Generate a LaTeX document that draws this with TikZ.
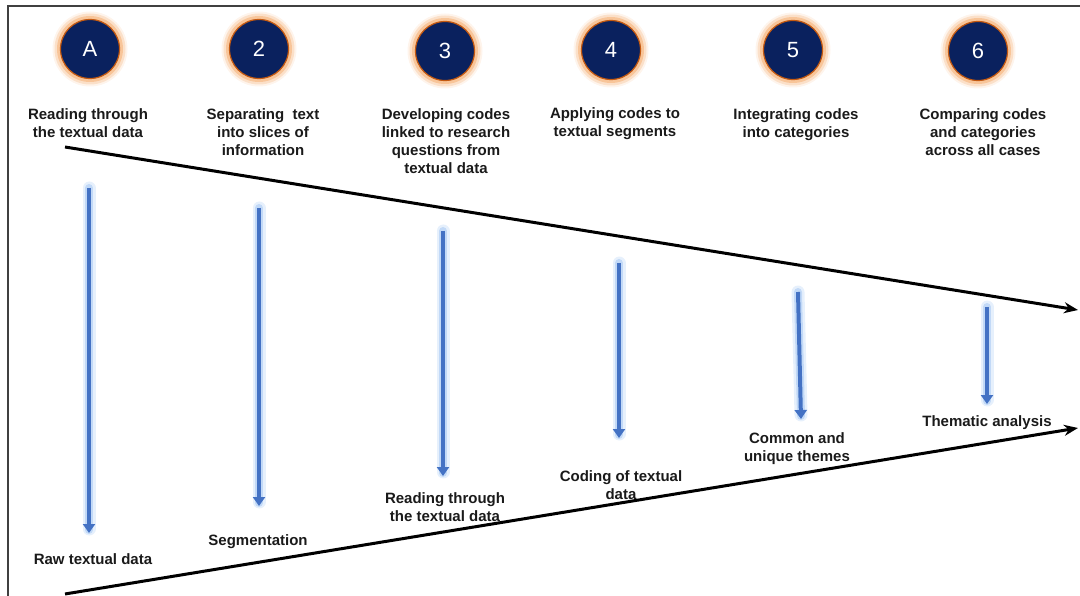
\documentclass[tikz,border=0pt]{standalone}
\usepackage{fontspec}
\setmainfont{Liberation Sans}
\usetikzlibrary{arrows.meta,calc}
\definecolor{navy}{HTML}{0A215E}
\definecolor{halo}{HTML}{F4A460}
\definecolor{haloedge}{HTML}{C55A11}
\definecolor{arrowblue}{HTML}{4472C4}
\definecolor{glowblue}{HTML}{9DC3F2}
\definecolor{txt}{HTML}{1A1A1A}
\tikzset{
  stepnum/.style={circle, fill=navy, draw=haloedge, line width=1.2pt, minimum size=59pt, inner sep=0pt, text=white, font=\fontsize{22}{22}\selectfont},
  lbl/.style={align=center, font=\bfseries\fontsize{15}{18}\selectfont, text=txt, inner sep=0pt},
  funnel/.style={line width=3pt, -{Stealth[length=14pt,width=11pt]}},
  glowouter/.style={line width=13pt, glowblue, opacity=0.25, line cap=round},
  glowline/.style={line width=8pt, glowblue, opacity=0.5, line cap=round},
  bluearrow/.style={line width=4pt, arrowblue, -{Triangle[length=9pt,width=12pt]}},
}
\newcommand{\halostep}[4]{%
  \fill[halo, opacity=0.12] (#1,#2) circle (37.5);
  \fill[halo, opacity=0.25] (#1,#2) circle (35.5);
  \fill[halo, opacity=0.45] (#1,#2) circle (33);
  \node[stepnum] (#3) at (#1,#2) {#4};
}
\begin{document}
\begin{tikzpicture}[x=1pt,y=-1pt]
\useasboundingbox (0,0) rectangle (1080,596);
% frame
\draw[line width=1.8pt, black!75] (8,596) -- (8,6) -- (1080,6);
% circles
\halostep{90}{49}{c1}{A}
\halostep{259}{49}{c2}{2}
\halostep{445}{51}{c3}{3}
\halostep{611}{50}{c4}{4}
\halostep{793}{50}{c5}{5}
\halostep{978}{51}{c6}{6}
% top labels
\node[lbl, anchor=north] (t1) at (88,108) {Reading through\\the textual data};
\node[lbl, anchor=north] (t2) at (263,108) {Separating\ \ text\\into slices of\\information};
\node[lbl, anchor=north] (t3) at (446,108) {Developing codes\\linked to research\\questions from\\textual data};
\node[lbl, anchor=north] (t4) at (615,107) {Applying codes to\\textual segments};
\node[lbl, anchor=north] (t5) at (796,108) {Integrating codes\\into categories};
\node[lbl, anchor=north] (t6) at (983,108) {Comparing codes\\and categories\\across all cases};
% funnel lines
\coordinate (ts) at (65,147);
\coordinate (te) at (1078,310);
\coordinate (bs) at (65,594);
\coordinate (be) at (1078,428);
\draw[funnel] (ts) -- (te);
\draw[funnel] (bs) -- (be);
% blue arrows
\coordinate (a1s) at (89,188);  \coordinate (a1e) at (89,533);
\coordinate (a2s) at (259,208); \coordinate (a2e) at (259,506);
\coordinate (a3s) at (443,231); \coordinate (a3e) at (443,476);
\coordinate (a4s) at (619,263); \coordinate (a4e) at (619,438);
\coordinate (a5s) at (798,292); \coordinate (a5e) at (801,419);
\coordinate (a6s) at (987,307); \coordinate (a6e) at (987,404);
\foreach \i in {1,...,6}{
  \draw[glowouter] (a\i s) -- ($(a\i e)+(0,-4)$);
  \draw[glowline] (a\i s) -- ($(a\i e)+(0,-3)$);
}
\foreach \i in {1,...,6}{
  \draw[bluearrow] (a\i s) -- (a\i e);
}
% bottom labels
\node[lbl] (b1) at (93,559) {Raw textual data};
\node[lbl] (b2) at (258,542) {Segmentation};
\node[lbl] (b3) at (445,507) {Reading through\\the textual data};
\node[lbl] (b4) at (621,485) {Coding of textual\\data};
\node[lbl] (b5) at (797,449) {Common and\\unique themes};
\node[lbl] (b6) at (987,423) {Thematic analysis};
\end{tikzpicture}
\end{document}
